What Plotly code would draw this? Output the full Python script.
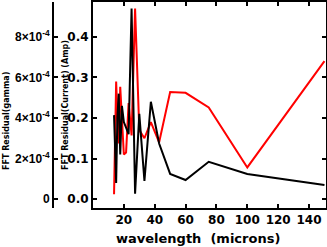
import plotly.graph_objects as go

# wavelengths (microns)
wavelength = [13.64, 14.29, 15.0, 15.79, 16.67, 17.65, 18.75, 20.0, 21.43, 23.08,
              25.0, 27.27, 30.0, 33.33, 37.5, 42.86, 50.0, 60.0, 75.0, 100.0, 150.0]
# FFT residual (gamma)  -- black
resid_gamma = [4.14e-4, 2.0e-4, 0.8e-4, 4.0e-4, 5.2e-4, 2.2e-4, 4.6e-4, 3.8e-4, 3.5e-4, 3.2e-4,
               9.4e-4, 0.26e-4, 4.2e-4, 0.9e-4, 4.8e-4, 2.74e-4, 1.24e-4, 0.94e-4, 1.84e-4, 1.24e-4, 0.7e-4]
# FFT residual (current) in Amp  -- red
resid_current = [0.012, 0.16, 0.29, 0.21, 0.137, 0.277, 0.18, 0.11, 0.115, 0.237,
                 0.157, 0.47, 0.17, 0.15, 0.19, 0.14, 0.264, 0.262, 0.226, 0.078, 0.34]

gamma_ticks = [0, 2e-4, 4e-4, 6e-4, 8e-4]
gamma_ticktext = ["0", "2×10<sup>-4</sup>", "4×10<sup>-4</sup>", "6×10<sup>-4</sup>", "8×10<sup>-4</sup>"]
current_ticks = [0.0, 0.1, 0.2, 0.3, 0.4]
x_ticks = [20, 40, 60, 80, 100, 120, 140]

W, H = 327, 247
x0, x1 = 93, 326
yt, yb = 2, 208
cur_range = [-0.022, 0.486]
gam_range = [cur_range[0] * 2e-3, cur_range[1] * 2e-3]

FONT = "DejaVu Sans"
FONT2 = "Liberation Sans"
fig = go.Figure()
fig.add_trace(go.Scatter(x=wavelength, y=resid_gamma, mode="lines",
                         line=dict(color="black", width=2), yaxis="y2", showlegend=False))
fig.add_trace(go.Scatter(x=wavelength, y=resid_current, mode="lines",
                         line=dict(color="#ff0000", width=2), yaxis="y", showlegend=False))

fig.update_layout(
    width=W, height=H, margin=dict(l=0, r=0, t=0, b=0),
    paper_bgcolor="white", plot_bgcolor="white",
    font=dict(family=FONT, color="black"),
    xaxis=dict(domain=[x0 / W, x1 / W], range=[0, 151], tickvals=x_ticks,
               ticks="inside", ticklen=4, tickwidth=2, tickcolor="black",
               showline=True, linewidth=2, linecolor="black", mirror="ticks",
               showgrid=False, zeroline=False,
               tickfont=dict(size=12, family=FONT, weight="bold")),
    yaxis=dict(domain=[1 - yb / H, 1 - yt / H], range=cur_range, tickvals=current_ticks,
               tickformat=".1f", ticks="inside", ticklen=4, tickwidth=2, tickcolor="black",
               showline=True, linewidth=2, linecolor="black", mirror="ticks",
               showgrid=False, zeroline=False,
               tickfont=dict(size=12, family=FONT, weight="bold")),
    yaxis2=dict(overlaying="y", side="left", anchor="free", position=53 / W,
                range=gam_range, tickvals=gamma_ticks, ticktext=gamma_ticktext,
                ticks="inside", ticklen=4, tickwidth=2, tickcolor="black",
                showline=True, linewidth=2, linecolor="black",
                showgrid=False, zeroline=False,
                tickfont=dict(size=12, family=FONT2, weight="bold")),
    annotations=[
        dict(text="wavelength  (microns)", x=198 / W, y=1 - 238 / H,
             xanchor="center", yanchor="middle",
             xref="paper", yref="paper", showarrow=False,
             font=dict(size=13, family=FONT, weight="bold")),
        dict(text="FFT Residual(Current) (Amp)", x=65 / W, y=1 - 105 / H,
             xanchor="center", yanchor="middle",
             xref="paper", yref="paper", showarrow=False, textangle=-90,
             font=dict(size=8, family=FONT, weight="bold")),
        dict(text="FFT Residual(gamma)", x=6 / W, y=1 - 121 / H,
             xanchor="center", yanchor="middle",
             xref="paper", yref="paper", showarrow=False, textangle=-90,
             font=dict(size=8, family=FONT, weight="bold")),
    ],
)
fig.write_html("out.html", config={"displayModeBar": False},
               post_script="document.body.style.margin='0';")
